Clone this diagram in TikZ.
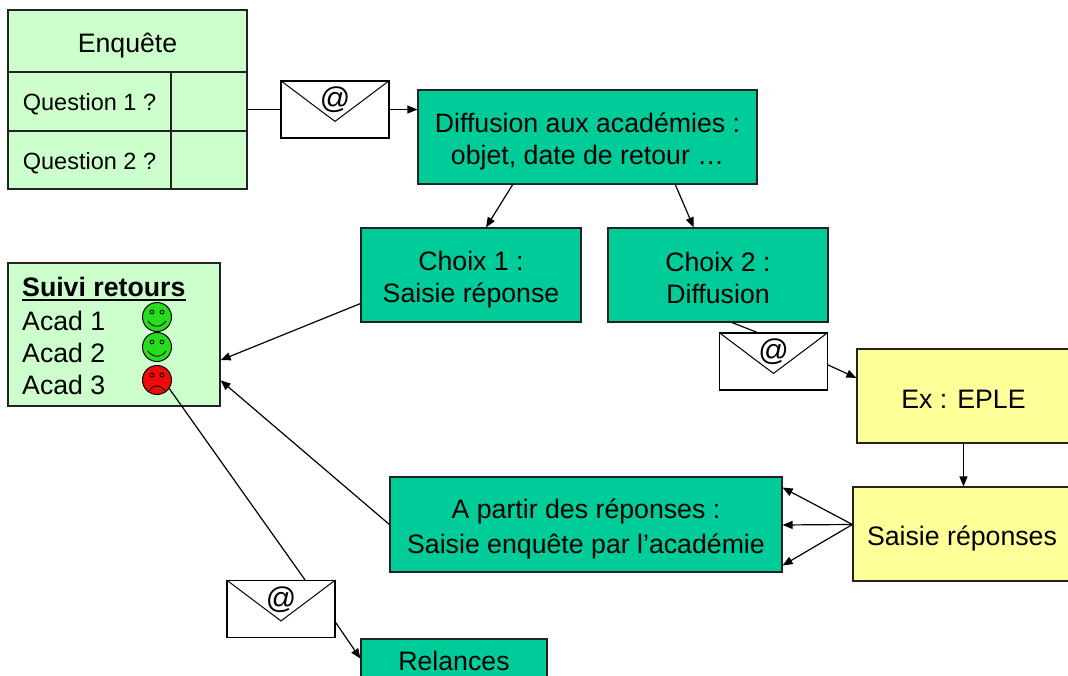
\documentclass[tikz,border=0pt]{standalone}
\usepackage{fontspec}
\setmainfont{Liberation Sans}
\usetikzlibrary{arrows.meta,calc}
\definecolor{lgreen}{HTML}{CCFFCC}
\definecolor{tealbox}{HTML}{00CC99}
\definecolor{lyellow}{HTML}{FFFF99}
\definecolor{smgreen}{RGB}{40,220,30}
\definecolor{smred}{RGB}{240,10,10}
\definecolor{edgecol}{HTML}{222222}
\newcommand{\envflap}[1]{\draw[line width=1pt] (#1.north west) -- ($(#1.north)+(0,41)$) -- (#1.north east);}
\newcommand{\tstrut}{\rule[-3.4pt]{0pt}{32pt}}
\newcommand{\qstrut}{\rule[-5pt]{0pt}{28pt}}
\newcommand{\rstrut}{\rule[-16pt]{0pt}{32pt}}
\begin{document}
\begin{tikzpicture}[x=1pt,y=-1pt,
  every node/.style={font=\fontsize{26.7}{32}\selectfont},
  box/.style={draw=edgecol, line width=1.2pt, inner sep=0pt, align=center},
  envel/.style={draw=black, line width=1.2pt, fill=white, minimum width=108pt, minimum height=57pt, inner sep=0pt},
  atsign/.style={font=\fontsize{30}{32}\selectfont, inner sep=0pt},
  qfont/.style={font=\fontsize{23.5}{28}\selectfont},
  conn/.style={line width=1.2pt, draw=black},
  arr/.style={conn, -{Triangle[length=10pt,width=8pt]}},
  face/.style={circle, draw=black, line width=1pt, minimum size=29pt, inner sep=0pt},
  txt/.style={inner sep=0pt, anchor=base west}
  ]
\useasboundingbox (0,0) rectangle (1068,675);

% Enquete table
\node[box, fill=lgreen, minimum width=239pt, minimum height=62pt] (enq) at (127.5,41) {\tstrut Enquête};
\node[box, fill=lgreen, minimum width=163pt, minimum height=59pt, qfont] (q1) at (89.5,101.5) {\qstrut Question 1 ?};
\node[box, fill=lgreen, minimum width=76pt, minimum height=59pt] (q1v) at (209,101.5) {};
\node[box, fill=lgreen, minimum width=163pt, minimum height=58pt, qfont] (q2) at (89.5,160) {\qstrut Question 2 ?};
\node[box, fill=lgreen, minimum width=76pt, minimum height=58pt] (q2v) at (209,160) {};

% envelope 1
\node[envel] (e1) at (335,109.5) {};
\envflap{e1}
\node[atsign] (a1) at ([yshift=9.5pt]e1.center) {@};

% main boxes
\node[box, fill=tealbox, minimum width=339pt, minimum height=94pt] (diff) at (587.5,137) {\tstrut Diffusion aux académies :\\\tstrut objet, date de retour …};
\node[box, fill=tealbox, minimum width=220pt, minimum height=94pt] (ch1) at (471,275) {\tstrut Choix 1 :\\\tstrut Saisie réponse};
\node[box, fill=tealbox, minimum width=220pt, minimum height=94pt] (ch2) at (718,275) {\tstrut Choix 2 :\\\tstrut Diffusion};
\node[box, fill=tealbox, minimum width=392pt, minimum height=95pt] (apartir) at (586,524.5) {\tstrut A partir des réponses :\\\tstrut Saisie enquête par l’académie};
\node[box, fill=lyellow, minimum width=213pt, minimum height=94pt] (eple) at (963.5,396) {\tstrut Ex : EPLE};
\node[box, fill=lyellow, minimum width=218pt, minimum height=94pt] (sais) at (962,534) {\tstrut Saisie réponses};
\node[box, fill=tealbox, minimum width=186pt, minimum height=60pt] (rel) at (454,669) {\rstrut Relances};

% Suivi retours
\node[box, fill=lgreen, minimum width=212pt, minimum height=143pt] (suivi) at (114,334.5) {};
\node[txt] (t0) at (22,296) {\textbf{Suivi retours}};
\draw[line width=2pt] ([yshift=-4pt]t0.base west) -- ([yshift=-4pt]t0.base east);
\node[txt] (t1) at (22,330) {Acad 1};
\node[txt] (t2) at (22,362) {Acad 2};
\node[txt] (t3) at (22,394) {Acad 3};

% smileys
\node[face, fill=smgreen] (s1) at (157,317) {};
\node[face, fill=smgreen] (s2) at (157,347) {};
\node[face, fill=smred] (s3) at (157,380) {};
\begin{scope}[shift={(s1.center)}, line width=0.8pt]
  \draw (-5,-5) circle[radius=2pt]; \draw (5,-5) circle[radius=2pt];
  \draw (-9,4) .. controls (-4,11) and (4,11) .. (9,4);
\end{scope}
\begin{scope}[shift={(s2.center)}, line width=0.8pt]
  \draw (-5,-5) circle[radius=2pt]; \draw (5,-5) circle[radius=2pt];
  \draw (-9,4) .. controls (-4,11) and (4,11) .. (9,4);
\end{scope}
\begin{scope}[shift={(s3.center)}, line width=0.8pt]
  \draw (-5,-5) circle[radius=2pt]; \draw (5,-5) circle[radius=2pt];
  \draw (-8,11) .. controls (-4,4) and (4,4) .. (8,11);
\end{scope}

% envelopes 2 and 3
\node[envel] (e2) at (773.5,361.5) {};
\envflap{e2}
\node[atsign] (a2) at ([yshift=9.5pt]e2.center) {@};
\node[envel] (e3) at (281,609) {};
\envflap{e3}
\node[atsign] (a3) at ([yshift=9.5pt]e3.center) {@};

% connectors
\draw[conn] (e1.west) -- (e1.west -| q1v.east);
\draw[arr] (e1.east) -- (e1.east -| diff.west);
\draw[arr] ($(diff.south west)!0.28!(diff.south east)$) -- ($(ch1.north west)!0.568!(ch1.north east)$);
\draw[arr] ($(diff.south west)!0.758!(diff.south east)$) -- ($(ch2.north west)!0.39!(ch2.north east)$);
\draw[arr] ($(ch1.north west)!0.8!(ch1.south west)$) -- ($(suivi.north east)!0.678!(suivi.south east)$);
\draw[arr] (apartir.west) -- ($(suivi.north east)!0.818!(suivi.south east)$);
\draw[conn] (s3.-35) -- ($(e3.north west)!0.72!(e3.north east)$);
\draw[arr] ($(e3.north east)!0.73!(e3.south east)$) -- ($(rel.north west)!0.33!(rel.south west)$);
\draw[conn] ($(ch2.south west)!0.564!(ch2.south east)$) -- ($(e2.north west)!0.35!(e2.north east)$);
\draw[arr] ($(e2.north east)!0.56!(e2.south east)$) -- ($(eple.north west)!0.31!(eple.south west)$);
\draw[arr] (eple.south) -- (eple.south |- sais.north);
\coordinate (sl) at ($(sais.north west)!0.4!(sais.south west)$);
\draw[arr] (sl) -- ($(apartir.north east)!0.116!(apartir.south east)$);
\draw[arr] (sl) -- ($(apartir.north east)!0.505!(apartir.south east)$);
\draw[arr] (sl) -- ($(apartir.north east)!0.926!(apartir.south east)$);
\end{tikzpicture}
\end{document}
